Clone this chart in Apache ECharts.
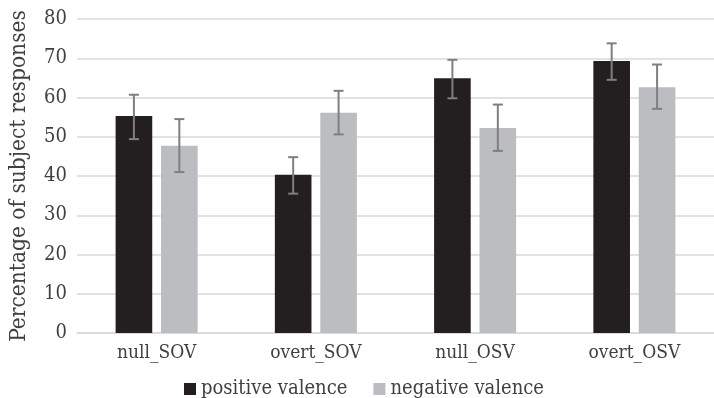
<!DOCTYPE html>
<html><head><meta charset="utf-8">
<script src="https://cdn.jsdelivr.net/npm/echarts@6/dist/echarts.min.js"></script>
<style>html,body{margin:0;padding:0;background:#fff}#c{width:714px;height:398px}</style>
</head><body><div id="c"></div>
<script>
const categories = ['null_SOV', 'overt_SOV', 'null_OSV', 'overt_OSV'];
const positive = [55.3, 40.3, 64.9, 69.3];
const negative = [47.7, 56.1, 52.2, 62.6];
const positiveLow = [49.4, 35.5, 59.8, 64.5];
const positiveHigh = [60.7, 44.8, 69.6, 73.8];
const negativeLow = [41.0, 50.6, 46.4, 57.1];
const negativeHigh = [54.5, 61.7, 58.2, 68.4];
const yTicks = [0, 10, 20, 30, 40, 50, 60, 70, 80];

const FONT = '"DejaVu Serif Condensed", "DejaVu Serif", serif';
const BAR_W = 0.23, GAP = 0.24;

function errSeries(low, high, side) {
  return {
    type: 'custom',
    silent: true,
    z: 5,
    data: categories.map((c, i) => [i, low[i], high[i]]),
    renderItem: function (params, api) {
      const i = api.value(0);
      const lo = api.coord([i, api.value(1)]);
      const hi = api.coord([i, api.value(2)]);
      const cw = api.size([1, 0])[0];
      const bw = cw * BAR_W;
      const x = lo[0] + side * (bw + bw * GAP) / 2;
      const cap = 5;
      const st = { stroke: '#7f7f7f', lineWidth: 2 };
      return { type: 'group', children: [
        { type: 'line', shape: { x1: x, y1: hi[1], x2: x, y2: lo[1] }, style: st },
        { type: 'line', shape: { x1: x - cap, y1: hi[1], x2: x + cap, y2: hi[1] }, style: st },
        { type: 'line', shape: { x1: x - cap, y1: lo[1], x2: x + cap, y2: lo[1] }, style: st }
      ]};
    }
  };
}

const chart = echarts.init(document.getElementById('c'), null, { renderer: 'canvas' });
chart.setOption({
  animation: false,
  backgroundColor: '#fff',
  grid: { left: 74.5, top: 19, width: 648, height: 314, containLabel: false },
  legend: {
    bottom: -1, left: 184, padding: 0,
    itemWidth: 12, itemHeight: 12, itemGap: 26,
    icon: 'rect',
    textStyle: { fontFamily: FONT, fontSize: 20, color: '#404040' },
    data: ['positive valence', 'negative valence']
  },
  xAxis: {
    type: 'category', data: categories,
    axisLine: { lineStyle: { color: '#d9d9d9', width: 1.5 } },
    axisTick: { show: false },
    axisLabel: { fontFamily: FONT, fontSize: 19, color: '#404040', margin: 11 }
  },
  yAxis: {
    type: 'value', min: yTicks[0], max: yTicks[yTicks.length - 1], interval: 10,
    name: 'Percentage of subject responses', nameLocation: 'middle', nameGap: 46,
    nameTextStyle: { fontFamily: FONT, fontSize: 22.5, color: '#404040' },
    axisLine: { show: false }, axisTick: { show: false },
    axisLabel: { fontFamily: FONT, fontSize: 20, color: '#404040', margin: 10 },
    splitLine: { lineStyle: { color: '#d9d9d9', width: 1.5 } }
  },
  series: [
    { name: 'positive valence', type: 'bar', data: positive, barWidth: (BAR_W * 100) + '%', barGap: (GAP * 100) + '%', itemStyle: { color: '#231f20' } },
    { name: 'negative valence', type: 'bar', data: negative, barWidth: (BAR_W * 100) + '%', barGap: (GAP * 100) + '%', itemStyle: { color: '#bcbdc0' } },
    errSeries(positiveLow, positiveHigh, -1),
    errSeries(negativeLow, negativeHigh, 1)
  ]
});
</script></body></html>
